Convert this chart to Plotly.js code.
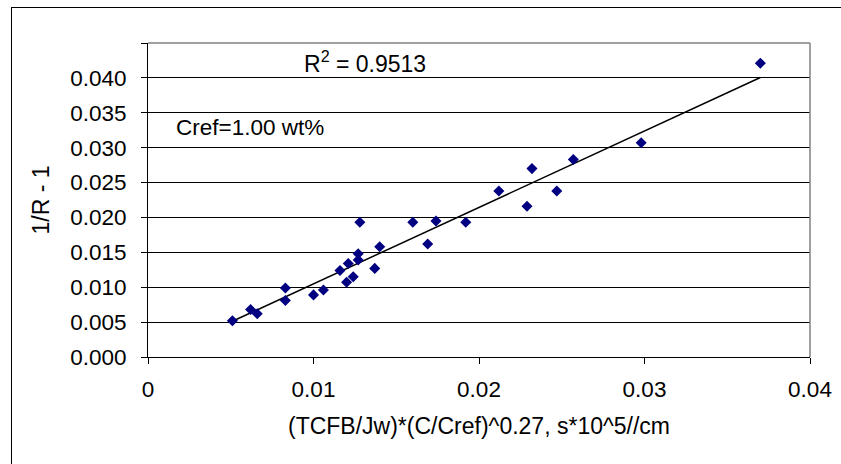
<!DOCTYPE html>
<html>
<head>
<meta charset="utf-8">
<script src="https://cdn.plot.ly/plotly-3.0.1.min.js"></script>
<style>
html,body{margin:0;padding:0;background:#fff;}
#wrap{position:relative;width:841px;height:464px;overflow:hidden;}
#frame{position:absolute;left:11px;top:7px;width:900px;height:600px;border-left:1px solid #000;border-top:1px solid #000;pointer-events:none;}
#chart{position:absolute;left:0;top:0;width:841px;height:464px;}
</style>
</head>
<body>
<div id="wrap">
<div id="chart"></div>
<div id="frame"></div>
</div>
<script>
// Data
const xValues = [0.0051, 0.0062, 0.0066, 0.0083, 0.0083, 0.0100, 0.0106, 0.0116, 0.0121, 0.0120, 0.0124, 0.0127, 0.0127, 0.0128, 0.0137, 0.0140, 0.0160, 0.0169, 0.0174, 0.0192, 0.0212, 0.0229, 0.0232, 0.0247, 0.0257, 0.0298, 0.0370];
const yValues = [0.0052, 0.0068, 0.0062, 0.0099, 0.0081, 0.0089, 0.0096, 0.0124, 0.0134, 0.0107, 0.0115, 0.0148, 0.0139, 0.0193, 0.0127, 0.0158, 0.0193, 0.0162, 0.0195, 0.0193, 0.0238, 0.0216, 0.0270, 0.0238, 0.0283, 0.0307, 0.0421];
const r2Label = "R<sup>2</sup> = 0.9513";
const crefLabel = "Cref=1.00 wt%";
const xTitle = "(TCFB/Jw)*(C/Cref)^0.27, s*10^5//cm";
const yTitle = "1/R - 1";
const xTickVals = [0, 0.01, 0.02, 0.03, 0.04];
const xTickText = ["0", "0.01", "0.02", "0.03", "0.04"];
const yTickVals = [0, 0.005, 0.01, 0.015, 0.02, 0.025, 0.03, 0.035, 0.04, 0.045];
const yTickText = ["0.000", "0.005", "0.010", "0.015", "0.020", "0.025", "0.030", "0.035", "0.040", ""];

// Linear least-squares trendline computed from the data
const n = xValues.length;
let sx = 0, sy = 0, sxx = 0, sxy = 0;
for (let i = 0; i < n; i++) { sx += xValues[i]; sy += yValues[i]; sxx += xValues[i]*xValues[i]; sxy += xValues[i]*yValues[i]; }
const slope = (n*sxy - sx*sy) / (n*sxx - sx*sx);
const intercept = (sy - slope*sx) / n;
const xMin = Math.min(...xValues), xMax = Math.max(...xValues);
const trendX = [xMin, xMax];
const trendY = trendX.map(v => slope*v + intercept);

const font = "Liberation Sans, Arial, sans-serif";

const traces = [
  {x: trendX, y: trendY, mode: 'lines', type: 'scatter', line: {color: '#000', width: 1.5}, hoverinfo: 'skip', showlegend: false},
  {x: xValues, y: yValues, mode: 'markers', type: 'scatter', marker: {symbol: 'diamond', size: 8.5, color: '#000080', line: {width: 0}}, showlegend: false}
];

const layout = {
  width: 841, height: 464,
  margin: {l: 148, r: 31, t: 43, b: 107, pad: 0},
  paper_bgcolor: 'rgba(0,0,0,0)', plot_bgcolor: '#fff',
  font: {family: font, size: 22.5, color: '#000'},
  showlegend: false,
  xaxis: {
    range: [0, 0.04], tickvals: xTickVals, ticktext: xTickText,
    showgrid: false, zeroline: false, showline: true, linecolor: '#000', linewidth: 1,
    ticks: 'outside', ticklen: 6, tickcolor: '#000', tickfont: {family: font, size: 22.5},
    ticklabelstandoff: 6,
    title: {text: xTitle, font: {family: font, size: 23}, standoff: 16},
    automargin: false
  },
  yaxis: {
    range: [0, 0.045], tickvals: yTickVals, ticktext: yTickText,
    showgrid: true, gridcolor: '#000', gridwidth: 1, zeroline: false,
    showline: true, linecolor: '#000', linewidth: 1,
    ticks: 'outside', ticklen: 6, tickcolor: '#000', tickfont: {family: font, size: 22.5},
    ticklabelstandoff: 10,
    title: {text: yTitle, font: {family: font, size: 23}, standoff: 14},
    automargin: false
  },
  shapes: [
    {type: 'line', xref: 'paper', yref: 'paper', x0: 0, x1: 1, y0: 1, y1: 1, line: {color: '#808080', width: 1.5}},
    {type: 'line', xref: 'paper', yref: 'paper', x0: 1, x1: 1, y0: 0, y1: 1, line: {color: '#808080', width: 1.5}}
  ],
  annotations: [
    {text: r2Label, xref: 'paper', yref: 'paper', x: 0.232, y: 0.94, xanchor: 'left', yanchor: 'middle', showarrow: false, font: {family: font, size: 23}},
    {text: crefLabel, xref: 'paper', yref: 'paper', x: 0.040, y: 0.731, xanchor: 'left', yanchor: 'middle', showarrow: false, font: {family: font, size: 22.5}}
  ]
};

Plotly.newPlot('chart', traces, layout, {displayModeBar: false, staticPlot: true});
</script>
</body>
</html>
